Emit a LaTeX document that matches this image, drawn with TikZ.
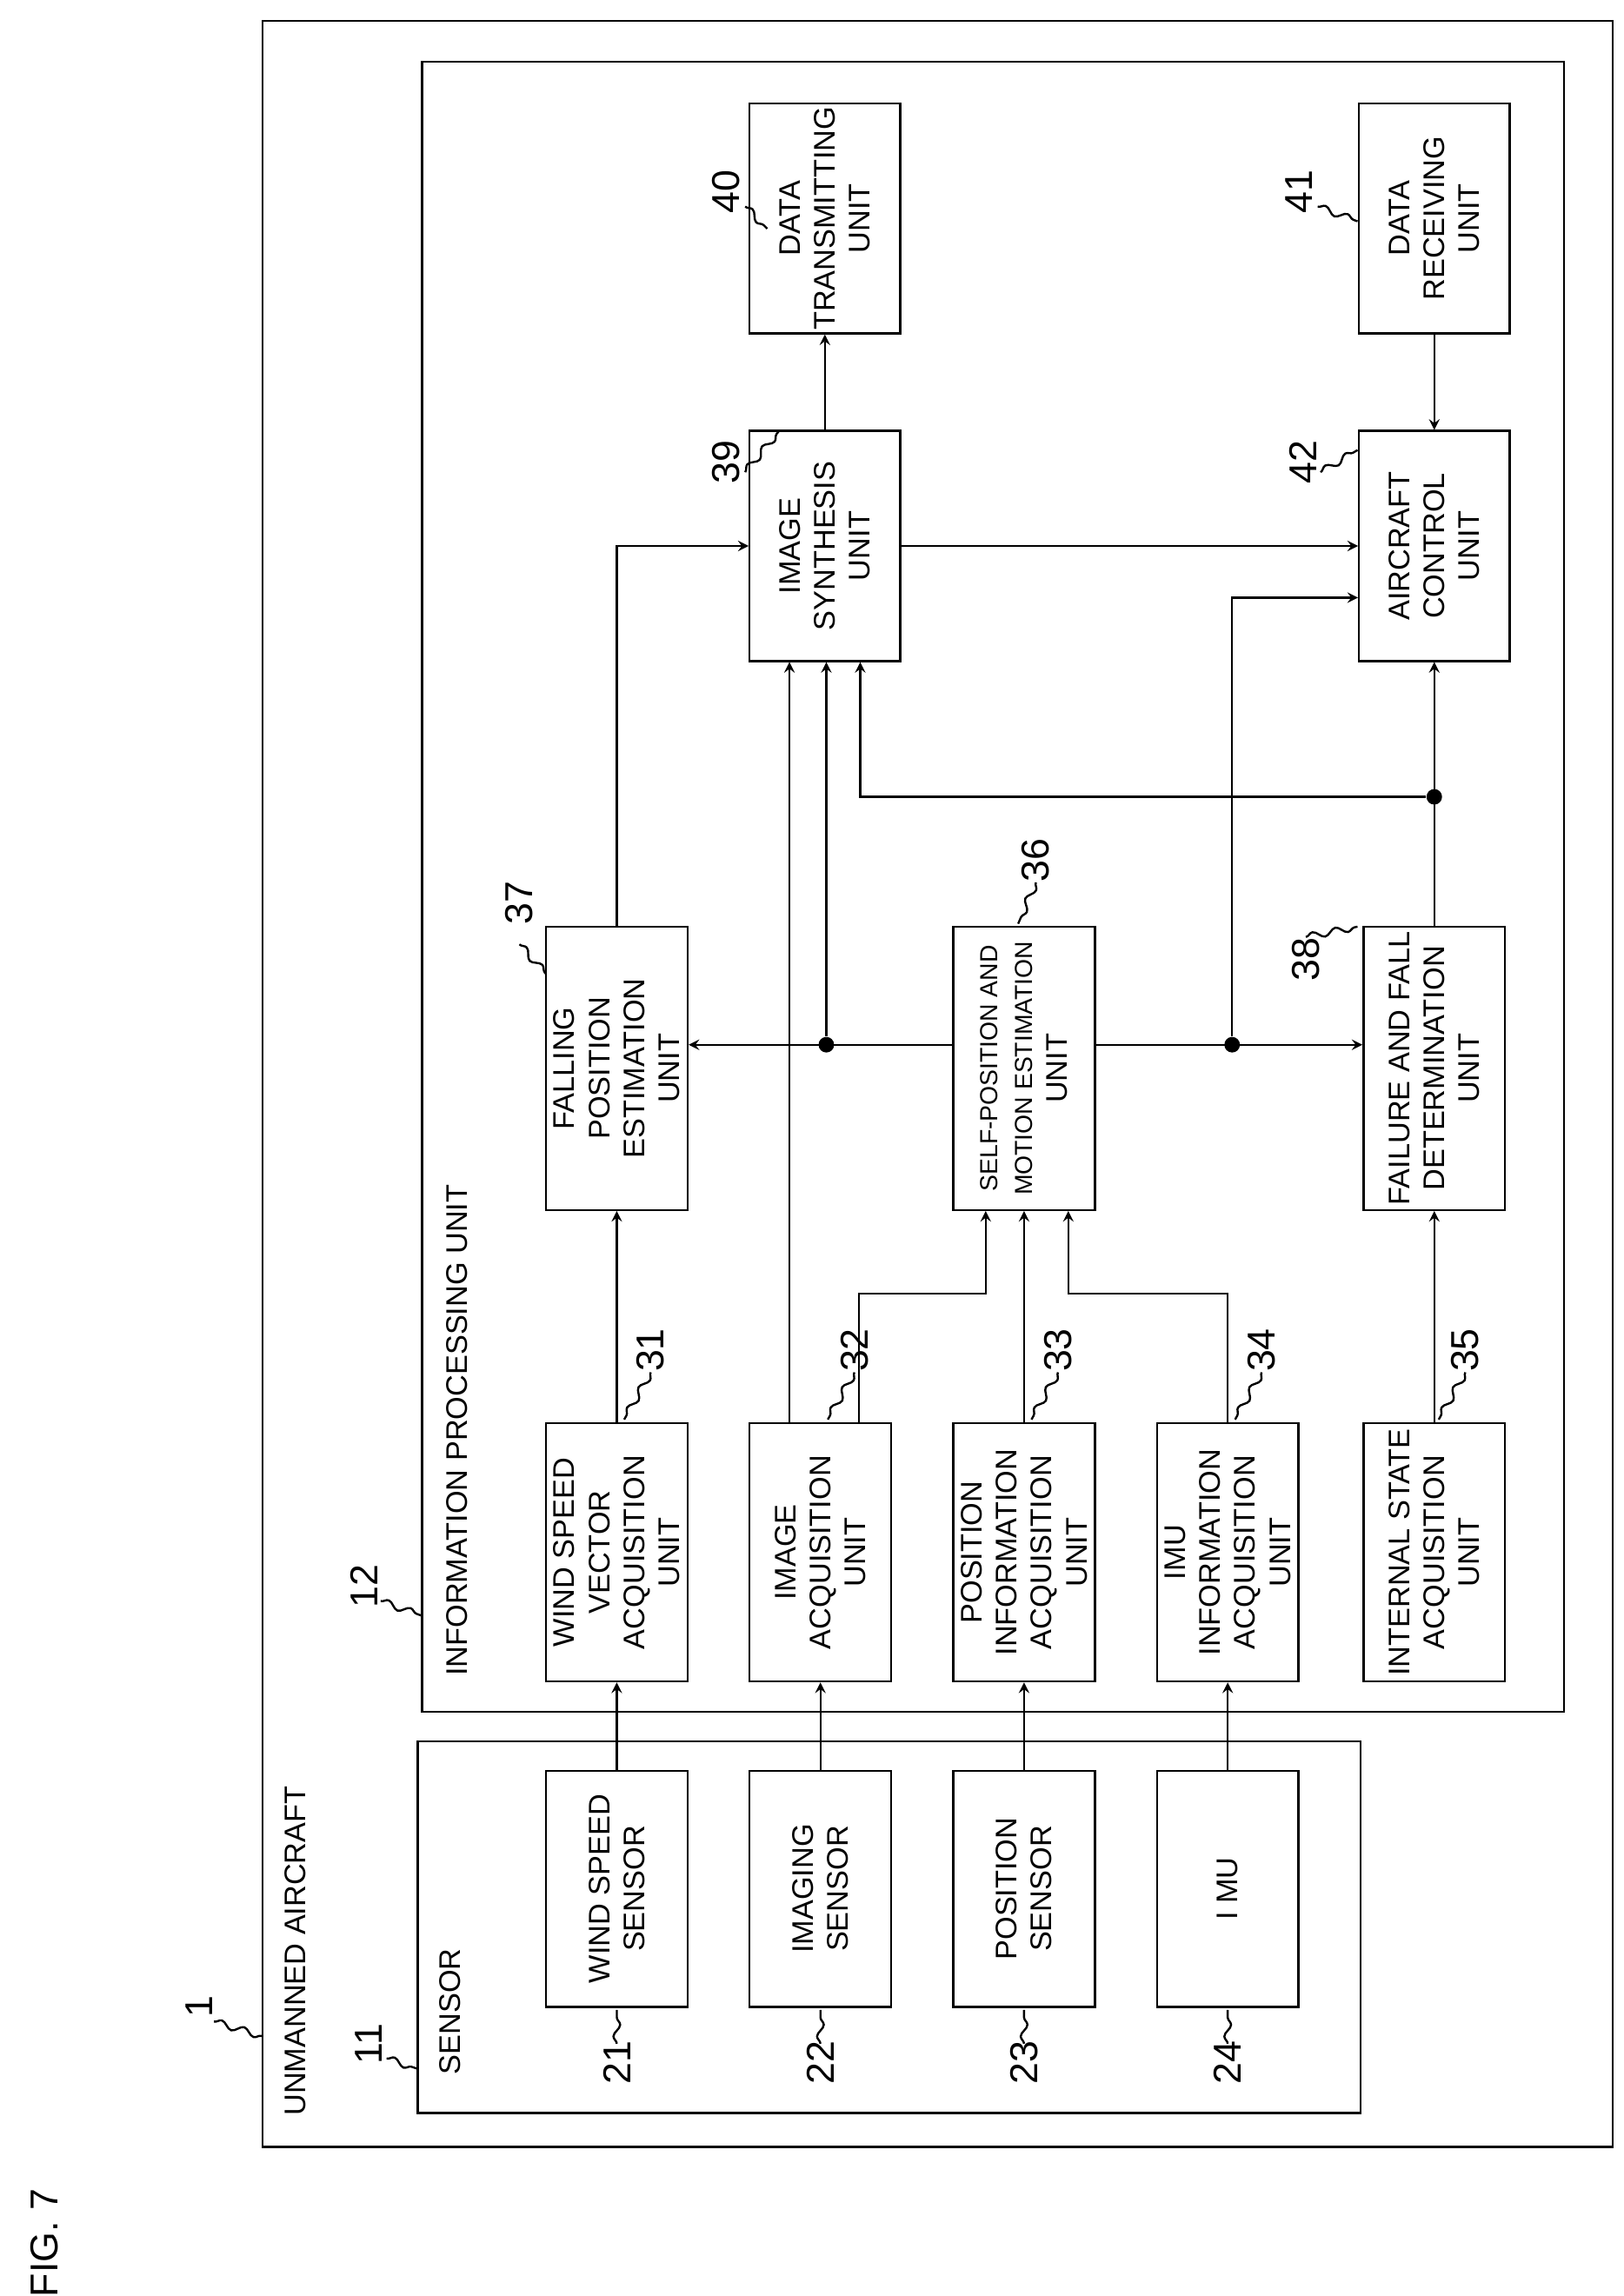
\documentclass[tikz,border=0pt]{standalone}
\usepackage{fontspec}
\setmainfont{Liberation Sans}
\usetikzlibrary{calc,decorations.pathmorphing}
\newcommand{\blocktxt}{\fontsize{11.5}{13.5}\selectfont}
\tikzset{
  blk/.style={draw, thick, rotate=90, align=center, font=\blocktxt, inner sep=0pt},
  sblk/.style={blk, minimum width=3.2cm, minimum height=1.92cm},
  ublk/.style={blk, minimum width=3.5cm, minimum height=1.92cm},
  mblk/.style={blk, minimum width=3.84cm, minimum height=1.92cm},
  tblk/.style={blk, minimum width=3.12cm, minimum height=2.04cm},
  lab/.style={rotate=90, font=\fontsize{15}{17}\selectfont},
  txt/.style={rotate=90, font=\blocktxt, anchor=west},
  wave/.style={thick, decorate, decoration={snake, amplitude=1.3pt, segment length=9pt}},
  line/.style={thick, ->, >=stealth},
  dot/.style={circle, fill, inner sep=0pt, minimum size=6pt}
}
\begin{document}
\begin{tikzpicture}[x=0.02cm, y=-0.02cm]
  \useasboundingbox (0,0) rectangle (1100,1556);

  % Rahmen
  \draw[thick] (178,14) rectangle (1093,1455);
  \draw[thick] (283,1180) rectangle (922,1432);
  \draw[thick] (286,42) rectangle (1060,1160);
  \node[txt] at (200,1440) {UNMANNED AIRCRAFT};
  \node[txt] at (305,1412) {SENSOR};
  \node[txt] at (310,1142) {INFORMATION PROCESSING UNIT};
  \node[lab] (fig) at (30,1520) {FIG. 7};

  % Sensoren
  \node[sblk] (s21) at (418,1280) {WIND SPEED\\SENSOR};
  \node[sblk] (s22) at (556,1280) {IMAGING\\SENSOR};
  \node[sblk] (s23) at (694,1280) {POSITION\\SENSOR};
  \node[sblk] (s24) at (832,1280) {I MU};

  % Erfassungseinheiten
  \node[ublk] (u31) at (418,1052) {WIND SPEED\\VECTOR\\ACQUISITION\\UNIT};
  \node[ublk] (u32) at (556,1052) {IMAGE\\ACQUISITION\\UNIT};
  \node[ublk] (u33) at (694,1052) {POSITION\\INFORMATION\\ACQUISITION\\UNIT};
  \node[ublk] (u34) at (832,1052) {IMU\\INFORMATION\\ACQUISITION\\UNIT};
  \node[ublk] (u35) at (972,1052) {INTERNAL STATE\\ACQUISITION\\UNIT};

  % mittlere Reihe
  \node[mblk] (u37) at (418,724) {FALLING\\POSITION\\ESTIMATION\\UNIT};
  \node[mblk, font=\fontsize{9.5}{13.5}\selectfont] (u36) at (694,724) {SELF-POSITION AND\\MOTION ESTIMATION\\{\blocktxt UNIT}};
  \node[mblk] (u38) at (972,724) {FAILURE AND FALL\\DETERMINATION\\UNIT};

  % obere Reihen
  \node[tblk] (u39) at (559,370) {IMAGE\\SYNTHESIS\\UNIT};
  \node[tblk] (u42) at (972,370) {AIRCRAFT\\CONTROL\\UNIT};
  \node[tblk] (u40) at (559,148) {DATA\\TRANSMITTING\\UNIT};
  \node[tblk] (u41) at (972,148) {DATA\\RECEIVING\\UNIT};

  % Bezugszeichen
  \foreach \n/\x in {21/418,22/556,23/694,24/832} {
    \node[lab] at (\x,1398) {\n};
    \draw[wave] (\x,1385) -- (\x,1362);
  }
  \foreach \n/\x in {31/441,32/579,33/717,34/855,35/993} {
    \node[lab] at (\x,915) {\n};
    \draw[wave] (\x,930) -- (\x-18,962);
  }
  \node[lab] at (352,612) {37};
  \draw[wave] (352,640) -- (370,660);
  \node[lab] at (702,583) {36};
  \draw[wave] (702,598) -- (690,626);
  \node[lab] at (885,650) {38};
  \draw[wave] (885,635) -- (920,628);
  \node[lab] at (492,313) {39};
  \draw[wave] (505,320) -- (528,292);
  \node[lab] at (883,313) {42};
  \draw[wave] (895,320) -- (920,305);
  \node[lab] at (492,130) {40};
  \draw[wave] (505,140) -- (520,155);
  \node[lab] at (880,130) {41};
  \draw[wave] (893,140) -- (920,150);
  \node[lab] at (250,1385) {11};
  \draw[wave] (262,1395) -- (283,1402);
  \node[lab] at (247,1075) {12};
  \draw[wave] (258,1085) -- (286,1095);
  \node[lab] at (135,1360) {1};
  \draw[wave] (145,1370) -- (178,1380);

  % Verbindungen
  \foreach \s/\u in {s21/u31,s22/u32,s23/u33,s24/u34}
    \draw[line] (\s.east) -- (\u.west);
  \draw[line] (u31.east) -- (u37.west);
  \draw[line] (u35.east) -- (u38.west);
  \draw[line] (u33.east) -- (u36.west);
  \draw[line] (u37.east) |- (u39.north);
  \draw[line] ($(u32.east)+(-21,0)$) -- ($(u39.west)+(-24,0)$);
  \draw[line] ($(u32.east)+(26,0)$) -- ++(0,-87) -| ($(u36.west)+(-26,0)$);
  \draw[line] (u34.east) -- ++(0,-87) -| ($(u36.west)+(30,0)$);
  \node[dot] (d1) at (560,708) {};
  \node[dot] (d2) at (835,708) {};
  \node[dot] (d3) at (972,540) {};
  \draw[line] (u36.north |- d1) -- (u37.south |- d1);
  \draw[line] (u36.south |- d2) -- (u38.north |- d2);
  \draw[line] (d1) -- (d1 |- u39.west);
  \draw[line] (d2) |- ($(u42.north)+(0,35)$);
  \draw[line] (u38.east) -- (u42.west);
  \draw[line] (d3) -| ($(u39.west)+(24,0)$);
  \draw[line] (u39.south) -- (u42.north);
  \draw[line] (u39.east) -- (u40.west);
  \draw[line] (u41.west) -- (u42.east);

\end{tikzpicture}
\end{document}
